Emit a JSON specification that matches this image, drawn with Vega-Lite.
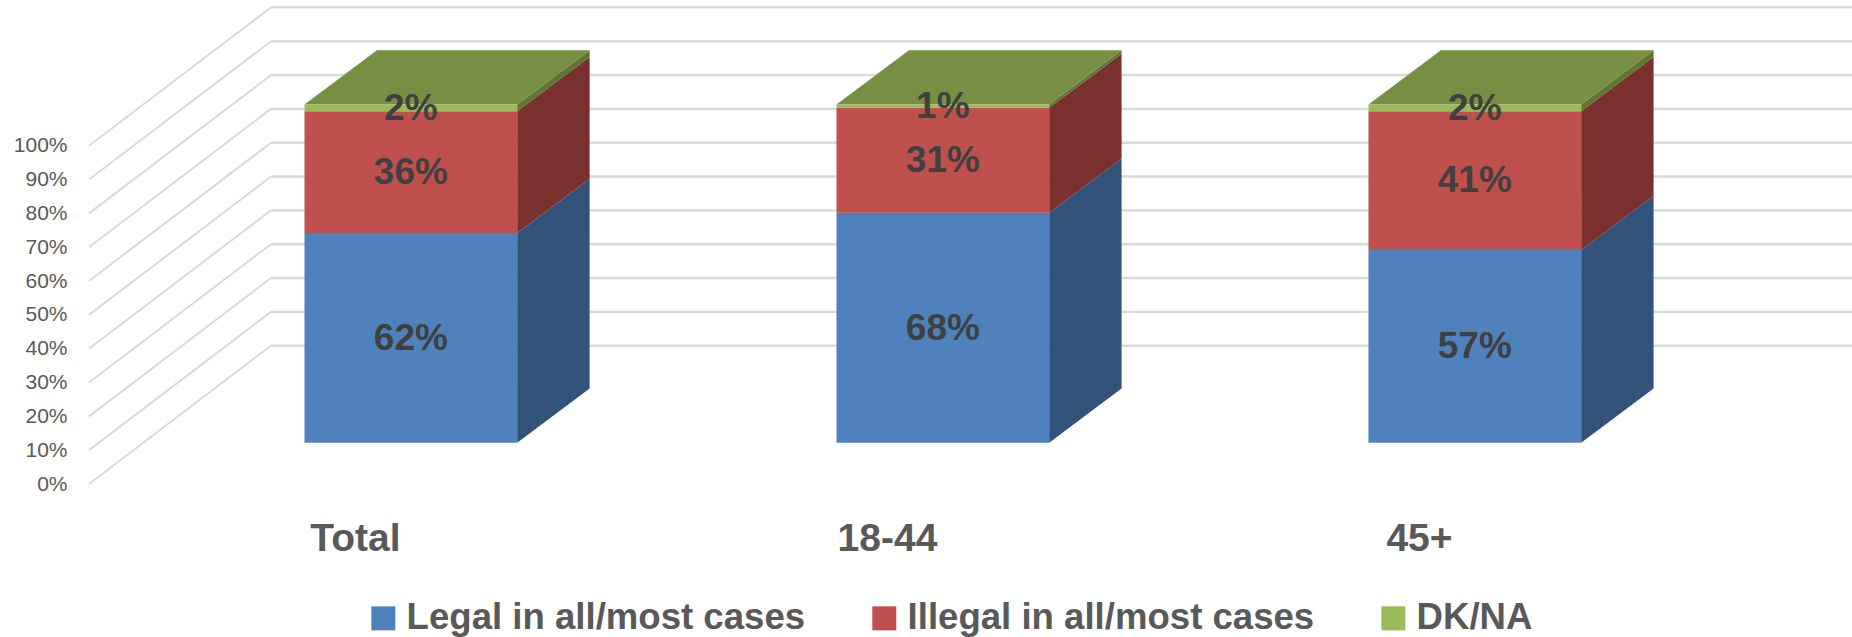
{
"$schema":"https://vega.github.io/schema/vega-lite/v6.json",
"width":1763,"height":484,
"autosize":{"type":"none"},
"padding":{"left":89,"top":0,"right":0,"bottom":153},
"background":"white",
"config":{"view":{"stroke":null},"font":"Liberation Sans"},
"resolve":{"scale":{"color":"independent"},"legend":{"color":"independent"}},
"datasets":{
"bars":[
{"group":"Total","g":0,"series":"Legal in all/most cases","rank":1,"value":62},
{"group":"Total","g":0,"series":"Illegal in all/most cases","rank":2,"value":36},
{"group":"Total","g":0,"series":"DK/NA","rank":3,"value":2},
{"group":"18-44","g":1,"series":"Legal in all/most cases","rank":1,"value":68},
{"group":"18-44","g":1,"series":"Illegal in all/most cases","rank":2,"value":31},
{"group":"18-44","g":1,"series":"DK/NA","rank":3,"value":1},
{"group":"45+","g":2,"series":"Legal in all/most cases","rank":1,"value":57},
{"group":"45+","g":2,"series":"Illegal in all/most cases","rank":2,"value":41},
{"group":"45+","g":2,"series":"DK/NA","rank":3,"value":2}
],
"ticks":[{"tick":0},{"tick":10},{"tick":20},{"tick":30},{"tick":40},{"tick":50},{"tick":60},{"tick":70},{"tick":80},{"tick":90},{"tick":100}]
},
"layer":[
{
"data":{"name":"ticks"},
"transform":[{"calculate":"datum.tick+40.88","as":"back"}],
"mark":{"type":"rule","color":"#d9d9d9","strokeWidth":2},
"encoding":{
"x":{"datum":-0.5,"type":"quantitative","scale":{"domain":[-0.5,2.814],"nice":false,"zero":false},
"axis":{"values":[0,1,2],"labelExpr":"['Total','18-44','45+'][datum.value]","title":null,"grid":false,"domain":false,"ticks":false,"labelFont":"Liberation Sans","labelFontWeight":"bold","labelFontSize":39,"labelColor":"#595959","labelPadding":35,"labelOverlap":false,"labelFlush":false}},
"x2":{"datum":-0.1579},
"y":{"field":"tick","type":"quantitative","scale":{"domain":[0,143.07],"nice":false,"zero":false},
"axis":{"values":[0,10,20,30,40,50,60,70,80,90,100],"labelExpr":"datum.value+'%'","title":null,"grid":false,"domain":false,"ticks":false,"labelFont":"Liberation Sans","labelFontSize":21,"labelColor":"#595959","labelPadding":22,"labelOverlap":false,"labelFlush":false}},
"y2":{"field":"back"}
}
},
{
"data":{"name":"ticks"},
"transform":[{"calculate":"datum.tick+40.88","as":"back"}],
"mark":{"type":"rule","color":"#d9d9d9","strokeWidth":2.4},
"encoding":{
"x":{"datum":-0.1579,"type":"quantitative","scale":{"domain":[-0.5,2.814],"nice":false,"zero":false}},
"x2":{"datum":2.814},
"y":{"field":"back","type":"quantitative","scale":{"domain":[0,143.07],"nice":false,"zero":false}}
}
},
{
"data":{"name":"bars"},
"transform":[
{"stack":"value","groupby":["group"],"sort":[{"field":"rank","order":"ascending"}],"as":["s0","s1"]},
{"calculate":"[0,1]","as":"d"},
{"flatten":["d"]},
{"calculate":"datum.g+0.3049+datum.d*0.1361","as":"xs"},
{"calculate":"datum.s0+12.2+datum.d*16","as":"ya"},
{"calculate":"datum.s1+12.2+datum.d*16","as":"yb"}
],
"mark":{"type":"area","orient":"vertical"},
"encoding":{
"x":{"field":"xs","type":"quantitative","scale":{"domain":[-0.5,2.814],"nice":false,"zero":false}},
"y":{"field":"ya","type":"quantitative","stack":null,"scale":{"domain":[0,143.07],"nice":false,"zero":false}},
"y2":{"field":"yb"},
"color":{"field":"series","type":"nominal","legend":null,"scale":{"domain":["Legal in all/most cases","Illegal in all/most cases","DK/NA"],"range":["#32527A","#7A302F","#5F7530"]}},
"detail":{"field":"group"}
}
},
{
"data":{"name":"bars"},
"transform":[
{"filter":"datum.rank===3"},
{"calculate":"[0,1]","as":"d"},
{"flatten":["d"]},
{"calculate":"datum.g-0.0949+datum.d*0.1361","as":"xa"},
{"calculate":"datum.g+0.3049+datum.d*0.1361","as":"xb"},
{"calculate":"112.2+datum.d*16","as":"yt"}
],
"mark":{"type":"area","orient":"horizontal","color":"#768F42"},
"encoding":{
"y":{"field":"yt","type":"quantitative","scale":{"domain":[0,143.07],"nice":false,"zero":false}},
"x":{"field":"xa","type":"quantitative","stack":null,"scale":{"domain":[-0.5,2.814],"nice":false,"zero":false}},
"x2":{"field":"xb"},
"detail":{"field":"group"}
}
},
{
"data":{"name":"bars"},
"transform":[
{"stack":"value","groupby":["group"],"sort":[{"field":"rank","order":"ascending"}],"as":["s0","s1"]},
{"calculate":"datum.g-0.0949","as":"xl"},
{"calculate":"datum.g+0.3049","as":"xr"},
{"calculate":"datum.s0+12.2","as":"ya"},
{"calculate":"datum.s1+12.2","as":"yb"}
],
"mark":{"type":"rect"},
"encoding":{
"x":{"field":"xl","type":"quantitative","scale":{"domain":[-0.5,2.814],"nice":false,"zero":false}},
"x2":{"field":"xr"},
"y":{"field":"ya","type":"quantitative","scale":{"domain":[0,143.07],"nice":false,"zero":false}},
"y2":{"field":"yb"},
"color":{"field":"series","type":"nominal","title":null,
"scale":{"domain":["Legal in all/most cases","Illegal in all/most cases","DK/NA"],"range":["#4F81BD","#C0504D","#9BBB59"]},
"legend":{"orient":"none","legendX":276,"legendY":600,"direction":"horizontal","columns":3,"columnPadding":60,"padding":0,"symbolType":"square","symbolSize":576,"symbolStrokeWidth":0,"labelFont":"Liberation Sans","labelFontWeight":"bold","labelFontSize":36.6,"labelColor":"#595959","labelOffset":5,"labelLimit":600}}
}
},
{
"data":{"name":"bars"},
"transform":[
{"stack":"value","groupby":["group"],"sort":[{"field":"rank","order":"ascending"}],"as":["s0","s1"]},
{"calculate":"datum.g+0.105","as":"xc"},
{"calculate":"(datum.s0+datum.s1)/2+12.2-0.25","as":"ym"},
{"calculate":"datum.value+'%'","as":"label"}
],
"mark":{"type":"text","font":"Liberation Sans","fontWeight":"bold","fontSize":37,"color":"#404040","align":"center","baseline":"middle"},
"encoding":{
"x":{"field":"xc","type":"quantitative","scale":{"domain":[-0.5,2.814],"nice":false,"zero":false}},
"y":{"field":"ym","type":"quantitative","scale":{"domain":[0,143.07],"nice":false,"zero":false}},
"text":{"field":"label"}
}
}
]
}
